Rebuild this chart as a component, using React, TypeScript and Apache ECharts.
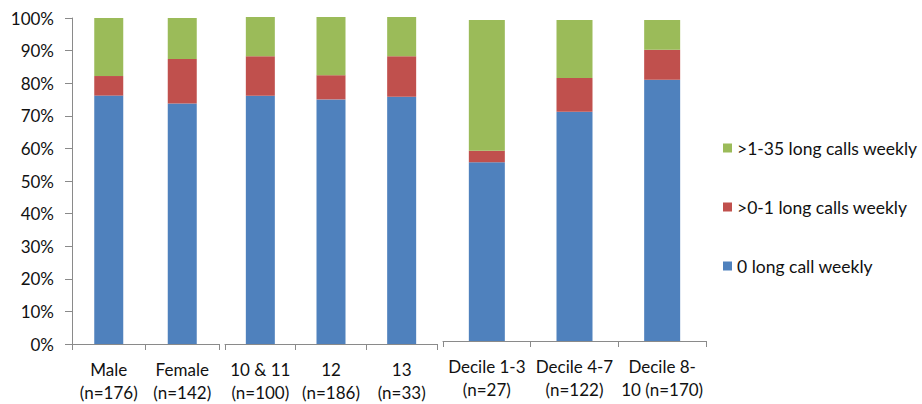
import React, { useEffect, useRef } from "react";
import * as echarts from "echarts";

const categories = [
  "Male\n(n=176)",
  "Female\n(n=142)",
  "10 & 11\n(n=100)",
  "12\n(n=186)",
  "13\n(n=33)",
  "Decile 1-3\n(n=27)",
  "Decile 4-7\n(n=122)",
  "Decile 8-\n10 (n=170)",
];
const groupSizes = [2, 3, 3];
const zeroCalls = [76.2, 73.8, 75.9, 74.8, 75.6, 55.7, 71.4, 81.4];
const upToOneCalls = [6.0, 13.6, 12.1, 7.4, 12.4, 3.6, 10.5, 9.3];
const oneTo35Calls = [17.8, 12.6, 12.0, 17.8, 12.0, 40.7, 18.1, 9.3];
const seriesNames = ["0 long call weekly", ">0-1 long calls weekly", ">1-35 long calls weekly"];
const seriesColors = ["#4F81BD", "#C0504D", "#9BBB59"];
const yTicks = [0, 10, 20, 30, 40, 50, 60, 70, 80, 90, 100];

const FONT = "Lato, Calibri, Carlito, sans-serif";
const AXIS_COLOR = "#8a8a8a";

export default function App() {
  const ref = useRef<HTMLDivElement>(null);
  useEffect(() => {
    if (!ref.current) return;
    const chart = echarts.init(ref.current, undefined, { renderer: "svg" });
    const grids = [
      { left: 72, width: 147, top: 18, height: 326 },
      { left: 225, width: 212, top: 17, height: 328 },
      { left: 443, width: 263, top: 20, height: 321 },
    ];
    const barWidths = [29, 29, 36];
    const xAxes: any[] = [];
    const yAxes: any[] = [];
    const series: any[] = [];
    let start = 0;
    const valueSets = [zeroCalls, upToOneCalls, oneTo35Calls];
    groupSizes.forEach((size, g) => {
      const cats = categories.slice(start, start + size);
      xAxes.push({
        type: "category",
        gridIndex: g,
        data: cats,
        boundaryGap: true,
        axisLine: { show: true, lineStyle: { color: AXIS_COLOR, width: 1 } },
        axisTick: { show: true, length: 6, interval: 0, lineStyle: { color: AXIS_COLOR } },
        axisLabel: {
          interval: 0,
          margin: 14,
          fontSize: 17,
          lineHeight: 23,
          color: "#111",
          fontFamily: FONT,
        },
      });
      yAxes.push({
        type: "value",
        gridIndex: g,
        min: 0,
        max: 100,
        interval: 10,
        show: g === 0,
        axisLine: { show: g === 0, lineStyle: { color: AXIS_COLOR } },
        axisTick: { show: g === 0, length: 7, lineStyle: { color: AXIS_COLOR } },
        splitLine: { show: false },
        axisLabel: {
          show: g === 0,
          margin: 18,
          fontSize: 17,
          color: "#111",
          fontFamily: FONT,
          formatter: (v: number) => (yTicks.includes(v) ? v + "%" : ""),
        },
      });
      valueSets.forEach((vals, s) => {
        series.push({
          type: "bar",
          name: seriesNames[s],
          xAxisIndex: g,
          yAxisIndex: g,
          stack: "g" + g,
          barWidth: barWidths[g],
          itemStyle: { color: seriesColors[s] },
          data: vals.slice(start, start + size),
        });
      });
      start += size;
    });
    chart.setOption({
      animation: false,
      grid: grids,
      xAxis: xAxes,
      yAxis: yAxes,
      legend: {
        orient: "vertical",
        left: 723,
        top: 138,
        padding: 0,
        icon: "rect",
        itemWidth: 9,
        itemHeight: 9,
        itemGap: 39,
        data: [seriesNames[2], seriesNames[1], seriesNames[0]],
        textStyle: { fontSize: 17.5, lineHeight: 20, color: "#111", fontFamily: FONT },
      },
      series,
    });
    return () => chart.dispose();
  }, []);
  return (
    <div
      ref={ref}
      style={{ position: "fixed", left: 0, top: 0, width: 922, height: 404, background: "#fff" }}
    />
  );
}
